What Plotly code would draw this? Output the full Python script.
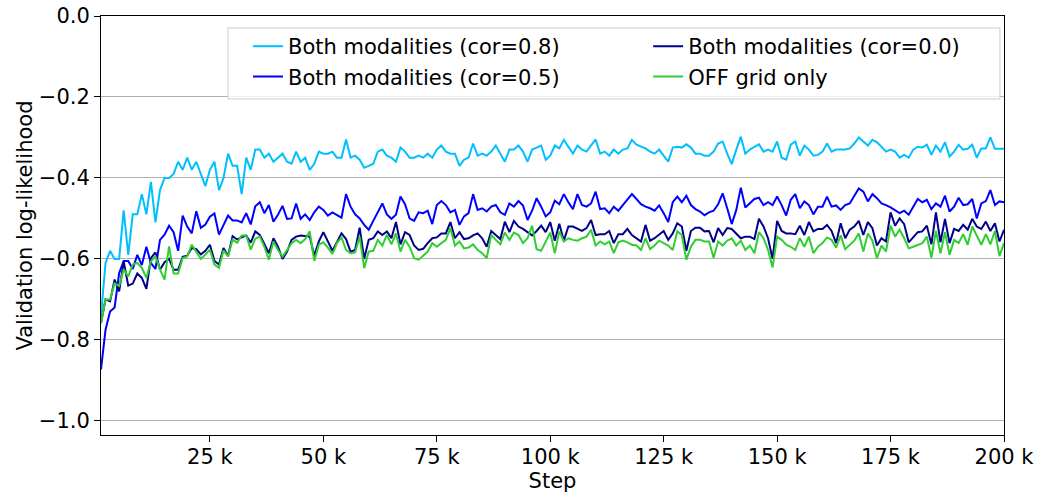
import plotly.graph_objects as go

# Training steps at which validation was run (every 1k steps)
steps = list(range(1000, 200001, 1000))

# Validation log-likelihood per run
both_cor08 = [
    -0.74, -0.61, -0.58, -0.60, -0.60, -0.48, -0.59, -0.49, -0.49, -0.44,
    -0.49, -0.41, -0.51, -0.43, -0.40, -0.40, -0.39, -0.36, -0.38, -0.35,
    -0.38, -0.36, -0.39, -0.42, -0.38, -0.36, -0.43, -0.40, -0.34, -0.37,
    -0.37, -0.44, -0.35, -0.38, -0.33,
    -0.33, -0.35, -0.34, -0.36, -0.35, -0.34, -0.36, -0.365, -0.335, -0.36,
    -0.35, -0.38, -0.365, -0.335, -0.34, -0.34, -0.335, -0.35, -0.35, -0.305,
    -0.35, -0.345, -0.355, -0.375, -0.37, -0.365, -0.335, -0.33, -0.345, -0.35,
    -0.36, -0.325, -0.335,
    -0.35, -0.35, -0.345, -0.35, -0.34, -0.35, -0.33, -0.32, -0.335, -0.34,
    -0.34, -0.37, -0.355, -0.35, -0.315, -0.345, -0.34, -0.345, -0.335, -0.32,
    -0.34, -0.36, -0.33, -0.33, -0.32, -0.335, -0.36, -0.33, -0.325, -0.32,
    -0.355, -0.345, -0.32,
    -0.327, -0.306, -0.323, -0.34, -0.32, -0.33, -0.335, -0.32, -0.305, -0.34,
    -0.335, -0.345, -0.33, -0.34, -0.33, -0.327, -0.306, -0.318, -0.323, -0.327,
    -0.335, -0.34, -0.33, -0.345, -0.36, -0.325, -0.323, -0.325, -0.317, -0.325,
    -0.34, -0.34, -0.345,
    -0.345, -0.335, -0.315, -0.31, -0.34, -0.366, -0.33, -0.298, -0.34, -0.33,
    -0.323, -0.317, -0.335, -0.33, -0.335, -0.31, -0.35, -0.355, -0.318, -0.31,
    -0.345, -0.32, -0.33, -0.345, -0.343, -0.335, -0.315, -0.335, -0.33, -0.33,
    -0.33, -0.327, -0.315,
    -0.30, -0.31, -0.32, -0.306, -0.312, -0.323, -0.335, -0.33, -0.335, -0.35,
    -0.343, -0.35, -0.33, -0.323, -0.325, -0.318, -0.343, -0.32, -0.335, -0.312,
    -0.347, -0.335, -0.318, -0.33, -0.328, -0.318, -0.35, -0.327, -0.327, -0.30,
    -0.328, -0.328, -0.328,
]

both_cor05 = [
    -0.873, -0.775, -0.73, -0.72, -0.635, -0.605, -0.605, -0.625, -0.59, -0.615,
    -0.57, -0.61, -0.625, -0.553, -0.54, -0.518, -0.534, -0.58, -0.493, -0.52,
    -0.537, -0.482, -0.523, -0.515, -0.496, -0.488, -0.54, -0.515, -0.493, -0.505,
    -0.505, -0.51, -0.487, -0.515, -0.47,
    -0.46, -0.487, -0.467, -0.508, -0.491, -0.469, -0.501, -0.50, -0.463, -0.501,
    -0.49, -0.504, -0.485, -0.471, -0.479, -0.493, -0.485, -0.491, -0.498, -0.44,
    -0.471, -0.49, -0.50, -0.516, -0.528, -0.506, -0.485, -0.463, -0.49, -0.501,
    -0.491, -0.446, -0.465,
    -0.50, -0.506, -0.485, -0.487, -0.481, -0.514, -0.467, -0.457, -0.467, -0.485,
    -0.479, -0.516, -0.495, -0.487, -0.44, -0.479, -0.475, -0.483, -0.471, -0.467,
    -0.485, -0.491, -0.463, -0.471, -0.457, -0.468, -0.504, -0.481, -0.45, -0.471,
    -0.495, -0.485, -0.456,
    -0.465, -0.44, -0.46, -0.477, -0.44, -0.467, -0.471, -0.463, -0.434, -0.477,
    -0.475, -0.487, -0.471, -0.481, -0.467, -0.454, -0.44, -0.452, -0.465, -0.471,
    -0.475, -0.481, -0.468, -0.487, -0.509, -0.46, -0.446, -0.46, -0.444, -0.467,
    -0.477, -0.483, -0.492,
    -0.485, -0.481, -0.465, -0.438, -0.475, -0.514, -0.479, -0.424, -0.473, -0.463,
    -0.452, -0.449, -0.467, -0.46, -0.467, -0.446, -0.467, -0.493, -0.454, -0.44,
    -0.475, -0.458, -0.467, -0.49, -0.471, -0.471, -0.446, -0.471, -0.468, -0.479,
    -0.467, -0.463, -0.444,
    -0.426, -0.434, -0.458, -0.44, -0.45, -0.463, -0.467, -0.473, -0.479, -0.487,
    -0.481, -0.491, -0.471, -0.452, -0.46, -0.454, -0.477, -0.463, -0.471, -0.444,
    -0.483, -0.471, -0.449, -0.467, -0.465, -0.452, -0.50, -0.463, -0.457, -0.43,
    -0.467, -0.458, -0.46,
]

both_cor00 = [
    -0.758, -0.70, -0.705, -0.651, -0.68, -0.606, -0.666, -0.661, -0.636, -0.647,
    -0.674, -0.598, -0.584, -0.627, -0.608, -0.60, -0.627, -0.627, -0.595, -0.592,
    -0.573, -0.576, -0.589, -0.58, -0.565, -0.605, -0.614, -0.573, -0.593, -0.544,
    -0.552, -0.546, -0.542, -0.56, -0.532,
    -0.541, -0.565, -0.586, -0.549, -0.57, -0.60, -0.582, -0.553, -0.545, -0.542,
    -0.543, -0.545, -0.592, -0.557, -0.534, -0.557, -0.58, -0.559, -0.537, -0.551,
    -0.582, -0.578, -0.523, -0.60, -0.553, -0.549, -0.532, -0.541, -0.532, -0.549,
    -0.509, -0.564, -0.534,
    -0.541, -0.567, -0.578, -0.575, -0.561, -0.549, -0.547, -0.537, -0.537, -0.509,
    -0.549, -0.534, -0.551, -0.549, -0.542, -0.537, -0.549, -0.57, -0.531, -0.542,
    -0.551, -0.508, -0.534, -0.506, -0.52, -0.526, -0.534, -0.542, -0.531, -0.518,
    -0.534, -0.509, -0.555,
    -0.513, -0.555, -0.52, -0.52, -0.526, -0.531, -0.524, -0.504, -0.541, -0.539,
    -0.539, -0.531, -0.561, -0.539, -0.539, -0.526, -0.541, -0.549, -0.557, -0.516,
    -0.555, -0.549, -0.539, -0.531, -0.553, -0.537, -0.512, -0.52, -0.58, -0.531,
    -0.523, -0.523, -0.532,
    -0.531, -0.559, -0.524, -0.541, -0.524, -0.526, -0.537, -0.549, -0.545, -0.545,
    -0.551, -0.501, -0.52, -0.549, -0.60, -0.506, -0.531, -0.537, -0.537, -0.539,
    -0.518, -0.541, -0.509, -0.532, -0.526, -0.526, -0.516, -0.531, -0.561, -0.512,
    -0.549, -0.528, -0.52,
    -0.506, -0.541, -0.509, -0.524, -0.567, -0.549, -0.557, -0.485, -0.518, -0.50,
    -0.514, -0.559, -0.547, -0.534, -0.532, -0.518, -0.564, -0.485, -0.559, -0.501,
    -0.561, -0.526, -0.531, -0.516, -0.528, -0.501, -0.52, -0.526, -0.508, -0.531,
    -0.512, -0.557, -0.528,
]

off_grid_only = [
    -0.76, -0.70, -0.70, -0.66, -0.667, -0.626, -0.643, -0.614, -0.61, -0.622,
    -0.647, -0.606, -0.594, -0.626, -0.651, -0.569, -0.636, -0.636, -0.598, -0.594,
    -0.565, -0.584, -0.60, -0.589, -0.577, -0.614, -0.622, -0.579, -0.594, -0.552,
    -0.56, -0.542, -0.542, -0.577, -0.55,
    -0.545, -0.57, -0.602, -0.557, -0.578, -0.594, -0.578, -0.561, -0.553, -0.561,
    -0.551, -0.532, -0.605, -0.565, -0.559, -0.572, -0.588, -0.561, -0.547, -0.578,
    -0.586, -0.584, -0.545, -0.623, -0.582, -0.58, -0.553, -0.567, -0.541, -0.564,
    -0.537, -0.582, -0.553,
    -0.57, -0.598, -0.602, -0.592, -0.582, -0.561, -0.57, -0.561, -0.553, -0.524,
    -0.567, -0.557, -0.574, -0.572, -0.564, -0.578, -0.586, -0.598, -0.541, -0.553,
    -0.564, -0.535, -0.553, -0.535, -0.541, -0.561, -0.549, -0.518, -0.576, -0.58,
    -0.556, -0.535, -0.586,
    -0.532, -0.557, -0.549, -0.553, -0.555, -0.549, -0.545, -0.528, -0.567, -0.557,
    -0.564, -0.557, -0.586, -0.559, -0.555, -0.559, -0.565, -0.567, -0.578, -0.549,
    -0.576, -0.567, -0.555, -0.561, -0.567, -0.578, -0.532, -0.541, -0.602, -0.57,
    -0.553, -0.553, -0.557,
    -0.557, -0.597, -0.557, -0.567, -0.555, -0.549, -0.567, -0.555, -0.578, -0.567,
    -0.586, -0.534, -0.549, -0.578, -0.621, -0.545, -0.553, -0.565, -0.57, -0.578,
    -0.549, -0.57, -0.545, -0.586, -0.57, -0.561, -0.547, -0.553, -0.572, -0.542,
    -0.576, -0.565, -0.555,
    -0.537, -0.582, -0.537, -0.555, -0.598, -0.567, -0.582, -0.518, -0.545, -0.528,
    -0.549, -0.574, -0.57, -0.565, -0.561, -0.545, -0.597, -0.531, -0.586, -0.534,
    -0.59, -0.553, -0.561, -0.539, -0.565, -0.52, -0.541, -0.565, -0.539, -0.564,
    -0.531, -0.593, -0.561,
]

x_tick_vals = [25000, 50000, 75000, 100000, 125000, 150000, 175000, 200000]
x_tick_text = ["25 k", "50 k", "75 k", "100 k", "125 k", "150 k", "175 k", "200 k"]
y_tick_vals = [0.0, -0.2, -0.4, -0.6, -0.8, -1.0]
y_tick_text = ["0.0", "\u22120.2", "\u22120.4", "\u22120.6", "\u22120.8", "\u22121.0"]

# (name, values, colour, legend column) in drawing order
series = [
    ("Both modalities (cor=0.8)", both_cor08, "#00bfff", "legend"),
    ("Both modalities (cor=0.5)", both_cor05, "#0000ff", "legend"),
    ("Both modalities (cor=0.0)", both_cor00, "#00008b", "legend2"),
    ("OFF grid only", off_grid_only, "#32cd32", "legend2"),
]

FONT = "DejaVu Sans"

fig = go.Figure()
for name, vals, color, leg in series:
    fig.add_trace(go.Scatter(
        x=steps, y=vals, mode="lines", name=name,
        line=dict(color=color, width=2),
        legend=leg,
    ))

# shared frame behind the two legend columns
fig.add_shape(
    type="rect", xref="paper", yref="paper",
    x0=0.1406, x1=0.9955, y0=0.802, y1=0.9714,
    fillcolor="rgba(255,255,255,0.8)",
    line=dict(color="#cccccc", width=1),
    layer="above",
)

legend_common = dict(
    orientation="v",
    xanchor="left", yanchor="top", y=0.976,
    bgcolor="rgba(0,0,0,0)", borderwidth=0,
    font=dict(family=FONT, size=21, color="black"),
    tracegroupgap=0,
)

fig.update_layout(
    width=1038, height=496,
    margin=dict(l=101, r=34, t=16, b=61),
    paper_bgcolor="white", plot_bgcolor="white",
    font=dict(family=FONT, size=21, color="black"),
    showlegend=True,
    legend=dict(x=0.1628, **legend_common),
    legend2=dict(x=0.6059, **legend_common),
)

fig.update_xaxes(
    range=[1000, 200000],
    tickvals=x_tick_vals, ticktext=x_tick_text,
    ticks="outside", ticklen=6, tickwidth=1, tickcolor="black",
    ticklabelstandoff=-3,
    showgrid=False, zeroline=False,
    showline=True, linecolor="black", linewidth=1, mirror=True,
    automargin=False,
    title=dict(text="Step", standoff=2, font=dict(family=FONT, size=21)),
    tickfont=dict(family=FONT, size=21),
)
fig.update_yaxes(
    range=[-1.035, 0.0],
    tickvals=y_tick_vals, ticktext=y_tick_text,
    ticks="outside", ticklen=6, tickwidth=1, tickcolor="black",
    showgrid=True, gridcolor="#b0b0b0", gridwidth=1,
    zeroline=False,
    showline=True, linecolor="black", linewidth=1, mirror=True,
    automargin=False,
    title=dict(text="Validation log-likelihood", standoff=0, font=dict(family=FONT, size=21)),
    tickfont=dict(family=FONT, size=21),
)

fig.write_html("out.html")
